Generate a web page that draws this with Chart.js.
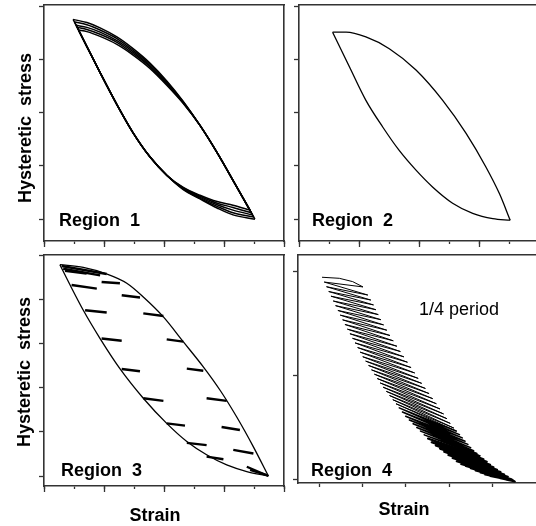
<!DOCTYPE html>
<html lang="en">
<head>
<meta charset="utf-8">
<title>Hysteretic stress vs strain</title>
<script src="https://cdn.jsdelivr.net/npm/chart.js@4.4.0/dist/chart.umd.min.js"></script>
<style>
  body { margin: 0; background: #fff; }
  #wrap { position: relative; width: 536px; height: 526px; overflow: hidden; background: #fff; }
  #wrap canvas { position: absolute; left: 0; top: 0; }
  .lbl { position: absolute; font-family: "Liberation Sans", Arial, sans-serif; font-size: 18px; line-height: 18px; white-space: pre; color: #000; }
  .b { font-weight: bold; }
  .rot { transform: translate(-50%, -50%) rotate(-90deg); }
  .ctr { transform: translate(-50%, 0); }
</style>
</head>
<body>
<div id="wrap">
  <canvas id="c1" width="536" height="526"></canvas>
  <canvas id="c2" width="536" height="526"></canvas>
  <canvas id="c3" width="536" height="526"></canvas>
  <canvas id="c4" width="536" height="526"></canvas>

  <div class="lbl b rot" style="left:25px; top:128px;">Hysteretic  stress</div>
  <div class="lbl b rot" style="left:24px; top:372px;">Hysteretic  stress</div>
  <div class="lbl b ctr" style="left:155px; top:506px;">Strain</div>
  <div class="lbl b ctr" style="left:404px; top:500px;">Strain</div>

  <div class="lbl b" style="left:59px; top:211px;">Region  1</div>
  <div class="lbl b" style="left:312px; top:211px;">Region  2</div>
  <div class="lbl b" style="left:61px; top:461px;">Region  3</div>
  <div class="lbl b" style="left:311px; top:461px;">Region  4</div>
  <div class="lbl" style="left:419px; top:300px;">1/4 period</div>
</div>

<script>
// ---- Region 1: five nested loops (strain, stress) ----
// descending branch, from the upper-left turning point to the lower-right one
const r1Down = [
  [[0.97,3.75],[1.43,3.24],[1.87,2.75],[2.43,2.15],[2.97,1.62],[3.53,1.17],[4.1,0.82],[4.63,0.56],[5.2,0.38],[5.77,0.21],[6.3,0.08],[7.03,0.0]],
  [[1.02,3.70],[1.43,3.24],[1.87,2.75],[2.43,2.15],[2.97,1.62],[3.53,1.17],[4.1,0.82],[4.63,0.57],[5.2,0.39],[5.77,0.24],[6.3,0.12],[6.99,0.04]],
  [[1.07,3.64],[1.43,3.24],[1.87,2.75],[2.43,2.15],[2.97,1.62],[3.53,1.17],[4.1,0.82],[4.63,0.58],[5.2,0.41],[5.77,0.27],[6.3,0.17],[6.95,0.08]],
  [[1.11,3.60],[1.43,3.24],[1.87,2.75],[2.43,2.15],[2.97,1.62],[3.53,1.17],[4.1,0.82],[4.63,0.59],[5.2,0.43],[5.77,0.30],[6.3,0.22],[6.91,0.12]],
  [[1.15,3.55],[1.43,3.24],[1.87,2.75],[2.43,2.15],[2.97,1.62],[3.53,1.17],[4.1,0.82],[4.63,0.60],[5.2,0.45],[5.77,0.33],[6.3,0.26],[6.87,0.17]]
];
// returning branch, from the lower-right turning point back to the upper-left
const r1Up = [
  [[7.03,0.0],[6.3,0.73],[5.77,1.25],[5.2,1.76],[4.63,2.22],[4.1,2.59],[3.53,2.93],[2.97,3.20],[2.43,3.42],[1.87,3.59],[1.43,3.69],[0.97,3.75]],
  [[6.99,0.04],[6.3,0.73],[5.77,1.25],[5.2,1.76],[4.63,2.21],[4.1,2.57],[3.53,2.91],[2.97,3.17],[2.43,3.39],[1.87,3.55],[1.43,3.65],[1.02,3.70]],
  [[6.95,0.08],[6.3,0.73],[5.77,1.25],[5.2,1.76],[4.63,2.20],[4.1,2.55],[3.53,2.88],[2.97,3.14],[2.43,3.35],[1.87,3.51],[1.43,3.60],[1.07,3.64]],
  [[6.91,0.12],[6.3,0.73],[5.77,1.25],[5.2,1.76],[4.63,2.19],[4.1,2.53],[3.53,2.86],[2.97,3.11],[2.43,3.32],[1.87,3.47],[1.43,3.56],[1.11,3.60]],
  [[6.87,0.17],[6.3,0.73],[5.77,1.25],[5.2,1.76],[4.63,2.18],[4.1,2.51],[3.53,2.83],[2.97,3.08],[2.43,3.28],[1.87,3.43],[1.43,3.52],[1.15,3.55]]
];

// ---- Region 2: one closed loop ----
const r2Up = [[1.12,3.51],[1.57,3.51],[2.23,3.42],[3.01,3.20],[3.9,2.80],[4.79,2.23],[5.57,1.61],[6.23,0.98],[6.68,0.48],[7.04,-0.02]];
const r2Down = [[1.12,3.51],[1.68,2.86],[2.23,2.23],[2.79,1.73],[3.34,1.29],[3.9,0.92],[4.46,0.60],[5.12,0.30],[5.79,0.11],[6.46,0.01],[7.04,-0.02]];

// ---- Region 3: outer loop plus short minor loops ----
const r3Up = [[0.53,4.78],[1.31,4.72],[2.09,4.57],[2.76,4.36],[3.31,4.05],[3.98,3.60],[4.64,3.04],[5.31,2.47],[5.87,1.94],[6.42,1.34],[6.98,0.66],[7.48,0.0]];
const r3Down = [[0.53,4.78],[0.87,4.32],[1.31,3.75],[1.87,3.11],[2.53,2.43],[3.31,1.76],[4.09,1.19],[4.76,0.78],[5.42,0.48],[6.09,0.25],[6.76,0.10],[7.48,0.0]];
const r3Minor = [
  [[0.59,4.75],[2.09,4.57]], [[0.64,4.69],[1.87,4.54]], [[0.70,4.64],[1.42,4.58]],
  [[0.92,4.32],[1.76,4.24]], [[1.92,4.39],[2.53,4.36]],
  [[1.37,3.75],[2.09,3.70]], [[2.59,4.09],[3.20,4.04]],
  [[1.92,3.11],[2.59,3.06]], [[3.31,3.68],[3.98,3.62]],
  [[2.59,2.42],[3.20,2.37]], [[4.09,3.09],[4.64,3.04]],
  [[3.31,1.76],[3.98,1.70]], [[4.76,2.43],[5.31,2.38]],
  [[4.09,1.19],[4.70,1.14]], [[5.42,1.76],[6.09,1.70]],
  [[4.76,0.75],[5.42,0.70]], [[5.92,1.11],[6.53,1.04]],
  [[5.42,0.44],[5.98,0.38]], [[6.31,0.59],[6.98,0.51]],
  [[6.76,0.21],[7.48,0.0]], [[6.87,0.14],[7.42,0.02]]
];

// ---- Region 4: minor loops along a quarter period ----
const r4TopArc = [[0.467,1.939],[0.775,1.907]];
const r4LeftStrain = [0.069,0.120,0.172,0.223,0.275,0.327,0.380,0.434,0.488,0.542,0.596,0.653,0.711,0.770,0.829,0.888,0.946,1.005,1.072,1.139,1.206,1.273,1.340,1.406,1.474,1.548,1.622,1.696,1.770,1.844,1.918,1.992,2.077,2.162,2.247,2.333,2.418,2.504,2.589,2.683,2.779,2.876,2.972,3.069,3.165,3.266,3.377,3.488,3.599,3.710,3.820,3.936,4.054,4.171,4.289,4.406];
const r4LeftStress = [1.949,1.903,1.858,1.812,1.767,1.721,1.676,1.630,1.585,1.540,1.495,1.450,1.406,1.362,1.318,1.273,1.229,1.185,1.143,1.101,1.059,1.017,0.975,0.933,0.892,0.852,0.812,0.772,0.733,0.693,0.653,0.613,0.577,0.541,0.505,0.470,0.434,0.399,0.363,0.331,0.301,0.271,0.240,0.210,0.180,0.153,0.133,0.113,0.092,0.072,0.052,0.039,0.028,0.016,0.005,-0.006];
const r4RightStrain = [1.011,1.122,1.191,1.253,1.308,1.363,1.423,1.485,1.559,1.632,1.708,1.791,1.871,1.952,2.034,2.117,2.200,2.280,2.361,2.446,2.531,2.614,2.699,2.782,2.864,2.943,3.018,3.101,3.166,3.230,3.295,3.359,3.424,3.488,3.556,3.631,3.708,3.783,3.859,3.935,4.013,4.095,4.178,4.261,4.343,4.426,4.435,4.443,4.452,4.460,4.469,4.478,4.486,4.495,4.504,4.512];
const r4RightStress = [1.856,1.778,1.730,1.683,1.637,1.590,1.541,1.491,1.440,1.389,1.338,1.286,1.235,1.184,1.132,1.081,1.029,0.977,0.929,0.880,0.831,0.782,0.733,0.683,0.635,0.589,0.544,0.499,0.468,0.436,0.405,0.373,0.342,0.311,0.281,0.254,0.228,0.201,0.175,0.148,0.122,0.099,0.076,0.054,0.031,0.008,0.005,0.003,0.000,-0.002,-0.004,-0.007,-0.009,-0.012,-0.014,-0.016];

const INK = '#000';
const AXIS = '#333';

function pts(arr) {
  return arr.map(p => ({ x: p[0], y: p[1] }));
}

// smooth branch (monotone in strain) or straight polyline
function curve(arr, width, smooth) {
  const ds = {
    data: pts(arr),
    showLine: true,
    borderColor: INK,
    borderWidth: width,
    pointRadius: 0,
    tension: 0,
    fill: false
  };
  if (smooth) ds.cubicInterpolationMode = 'monotone';
  return ds;
}

// one panel: box = page pixels of the plot frame, xr / yr = axis ranges
function panel(id, box, xr, yr, datasets, rightEdge, majorTicks) {
  const hidden = { display: false };
  new Chart(document.getElementById(id), {
    type: 'scatter',
    data: { datasets: datasets },
    options: {
      responsive: false,
      animation: false,
      devicePixelRatio: 1,
      events: [],
      layout: { padding: { left: box[0], top: box[1], right: 536 - box[2], bottom: 526 - box[3] } },
      plugins: { legend: hidden, tooltip: { enabled: false } },
      scales: {
        x: {
          type: 'linear', min: xr[0], max: xr[1],
          ticks: { display: false, stepSize: 1, includeBounds: false },
          grid: { display: true, drawOnChartArea: false, drawTicks: true, tickLength: majorTicks ? 3 : 4, tickWidth: 1.3, tickColor: AXIS },
          border: { display: true, color: AXIS, width: 1.6 },
          afterFit: s => { s.height = 0; }
        },
        xMajor: {
          type: 'linear', position: 'bottom', axis: 'x', display: majorTicks, min: xr[0], max: xr[1],
          ticks: { display: false, stepSize: 2, includeBounds: false },
          grid: { display: true, drawOnChartArea: false, drawTicks: true, tickLength: 6, tickWidth: 1.3, tickColor: AXIS },
          border: { display: false },
          afterFit: s => { s.height = 0; }
        },
        y: {
          type: 'linear', min: yr[0], max: yr[1],
          ticks: { display: false, stepSize: 1, includeBounds: false },
          grid: { display: true, drawOnChartArea: false, drawTicks: true, tickLength: 5, tickWidth: 1.3, tickColor: AXIS },
          border: { display: true, color: AXIS, width: 1.6 },
          afterFit: s => { s.width = 0; }
        },
        top: {
          type: 'linear', position: 'top', axis: 'x',
          ticks: hidden, grid: { display: false, drawTicks: false },
          border: { display: true, color: AXIS, width: 1.6 },
          afterFit: s => { s.height = 0; }
        },
        right: {
          type: 'linear', position: 'right', axis: 'y', display: rightEdge,
          ticks: hidden, grid: { display: false, drawTicks: false },
          border: { display: true, color: AXIS, width: 1.6 },
          afterFit: s => { s.width = 0; }
        }
      }
    }
  });
}

// Region 1
const set1 = [];
r1Down.forEach(b => set1.push(curve(b, 1.5, true)));
r1Up.forEach(b => set1.push(curve(b, 1.5, true)));
panel('c1', [44, 5, 284, 241], [0, 8], [-0.41, 4.02], set1, true, true);

// Region 2
panel('c2', [299, 5, 536, 241], [0, 7.9], [-0.41, 4.02],
  [curve(r2Up, 1.3, true), curve(r2Down, 1.3, true)], false, true);

// Region 3
const set3 = [curve(r3Up, 1.3, true), curve(r3Down, 1.3, true)];
r3Minor.forEach(d => set3.push(curve(d, 2.4, false)));
panel('c3', [44, 255, 284, 486], [0, 8], [-0.226, 5.0], set3, true, true);

// Region 4: zig-zag between the left turning points and the right ones
const zig = [];
for (let i = 0; i < r4LeftStrain.length; i++) {
  zig.push([r4LeftStrain[i], r4LeftStress[i]]);
  if (i === 0) r4TopArc.forEach(p => zig.push(p));
  zig.push([r4RightStrain[i], r4RightStress[i]]);
}
const zigSet = curve(zig, 1.0, false);
zigSet.borderJoinStyle = 'round';
zigSet.segment = { borderWidth: ctx => (ctx.p0DataIndex > 74 ? 2.0 : ctx.p0DataIndex > 58 ? 1.5 : 1.0) };
panel('c4', [298, 255, 536, 483], [-0.483, 4.989], [-0.029, 2.163], [zigSet], false, false);
</script>
</body>
</html>
